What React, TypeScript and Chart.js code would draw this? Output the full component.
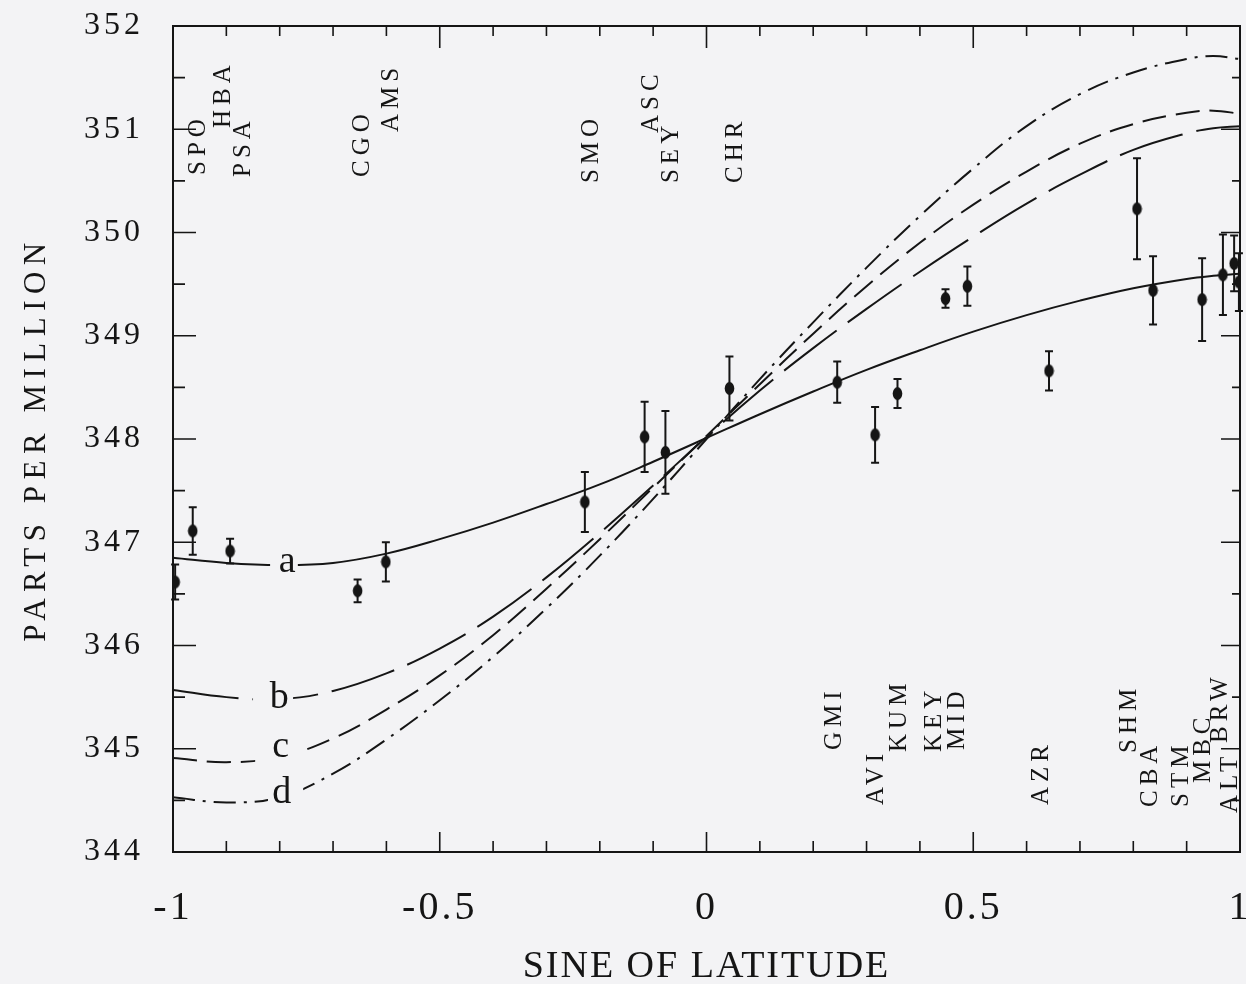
import React, { useEffect, useRef } from "react";
import { Chart, registerables } from "chart.js";

Chart.register(...registerables);

// ---------- data ----------
const curveX = [-1, -0.9, -0.8, -0.7, -0.6, -0.5, -0.4, -0.3, -0.2, -0.1, 0, 0.1, 0.2, 0.3, 0.4, 0.5, 0.6, 0.7, 0.8, 0.9, 0.95, 1];
const curveA = [346.85, 346.8, 346.78, 346.8, 346.89, 347.03, 347.19, 347.37, 347.56, 347.78, 348.01, 348.24, 348.46, 348.67, 348.86, 349.04, 349.2, 349.34, 349.46, 349.55, 349.58, 349.6];
const curveB = [345.57, 345.5, 345.48, 345.56, 345.73, 345.97, 346.28, 346.66, 347.09, 347.55, 348.02, 348.47, 348.88, 349.26, 349.62, 349.96, 350.28, 350.56, 350.8, 350.96, 351.01, 351.03];
const curveC = [344.91, 344.87, 344.92, 345.1, 345.38, 345.71, 346.1, 346.55, 347.03, 347.53, 348.03, 348.53, 349.02, 349.48, 349.9, 350.27, 350.59, 350.86, 351.05, 351.16, 351.18, 351.15];
const curveD = [344.53, 344.48, 344.53, 344.76, 345.09, 345.47, 345.89, 346.36, 346.87, 347.42, 348.0, 348.58, 349.13, 349.66, 350.16, 350.62, 351.03, 351.34, 351.55, 351.68, 351.71, 351.68];

const stationX = [-0.996, -0.963, -0.893, -0.654, -0.601, -0.228, -0.116, -0.077, 0.043, 0.245, 0.316, 0.358, 0.448, 0.489, 0.642, 0.807, 0.837, 0.929, 0.968, 0.989, 0.998];
const stationY = [346.615, 347.11, 346.915, 346.53, 346.81, 347.39, 348.02, 347.87, 348.49, 348.55, 348.04, 348.44, 349.36, 349.48, 348.66, 350.23, 349.44, 349.35, 349.59, 349.7, 349.52];
const stationErr = [0.17, 0.23, 0.12, 0.11, 0.19, 0.29, 0.34, 0.4, 0.31, 0.2, 0.27, 0.14, 0.09, 0.19, 0.19, 0.49, 0.33, 0.4, 0.39, 0.27, 0.28];

const stationCodes = ["SPO", "HBA", "PSA", "CGO", "AMS", "SMO", "ASC", "SEY", "CHR", "GMI", "AVI", "KUM", "KEY", "MID", "AZR", "SHM", "CBA", "STM", "MBC", "ALT", "BRW"];
const codeAnchorX = [-0.955, -0.908, -0.869, -0.646, -0.593, -0.218, -0.106, -0.068, 0.053, 0.237, 0.316, 0.359, 0.425, 0.468, 0.625, 0.79, 0.831, 0.888, 0.929, 0.981, 0.961];
const codeAnchorY = [350.557, 351.012, 350.538, 350.538, 350.973, 350.479, 350.964, 350.479, 350.479, 344.988, 344.455, 344.969, 344.969, 344.988, 344.455, 344.959, 344.436, 344.436, 344.668, 344.378, 345.056];

const curveNames = ["a", "b", "c", "d"];
const curveNameX = [-0.786, -0.801, -0.798, -0.796];
const curveNameY = [346.71, 345.395, 344.92, 344.47];
const curveGapFrom = [-0.818, -0.85, -0.846, -0.822];
const curveGapTo = [-0.766, -0.775, -0.762, -0.756];

const xTickValues = [-1, -0.5, 0, 0.5, 1];
const yTickValues = [344, 345, 346, 347, 348, 349, 350, 351, 352];

// ---------- styles ----------
const BG = "#f3f3f5";
const INK = "#151515";
const SERIF = '"Liberation Serif", "DejaVu Serif", serif';

function makeDot(): HTMLCanvasElement {
  const c = document.createElement("canvas");
  c.width = 11;
  c.height = 15;
  const g = c.getContext("2d")!;
  g.fillStyle = INK;
  g.beginPath();
  g.ellipse(5.5, 7.5, 4.8, 6.5, 0, 0, Math.PI * 2);
  g.fill();
  return c;
}

function patchSpacing(scale: any, labelSpacing: string | null, titleSpacing: string | null) {
  if (!scale || scale.__spaced) return;
  scale.__spaced = true;
  const dl = scale.drawLabels.bind(scale);
  scale.drawLabels = (area: any) => {
    const ctx = scale.ctx;
    ctx.save();
    if (labelSpacing) (ctx as any).letterSpacing = labelSpacing;
    dl(area);
    ctx.restore();
  };
  const dt = scale.drawTitle.bind(scale);
  scale.drawTitle = () => {
    const ctx = scale.ctx;
    ctx.save();
    if (titleSpacing) (ctx as any).letterSpacing = titleSpacing;
    dt();
    ctx.restore();
  };
}

const decor = {
  id: "decor",
  beforeDraw(chart: any) {
    const { ctx, width, height } = chart;
    ctx.save();
    ctx.fillStyle = BG;
    ctx.fillRect(0, 0, width, height);
    ctx.restore();
    patchSpacing(chart.scales.y, "4px", "6.5px");
    patchSpacing(chart.scales.x, "3px", "2px");
  },
  beforeDatasetsDraw(chart: any) {
    const { ctx } = chart;
    const xs = chart.scales.x;
    const ys = chart.scales.y;
    ctx.save();
    ctx.strokeStyle = INK;
    ctx.lineWidth = 2;
    for (let i = 0; i < stationX.length; i++) {
      const px = xs.getPixelForValue(stationX[i]);
      const y1 = ys.getPixelForValue(stationY[i] + stationErr[i]);
      const y2 = ys.getPixelForValue(stationY[i] - stationErr[i]);
      ctx.beginPath();
      ctx.moveTo(px, y1);
      ctx.lineTo(px, y2);
      ctx.moveTo(px - 4, y1);
      ctx.lineTo(px + 4, y1);
      ctx.moveTo(px - 4, y2);
      ctx.lineTo(px + 4, y2);
      ctx.stroke();
    }
    ctx.restore();
  },
  afterDatasetsDraw(chart: any) {
    const { ctx, chartArea } = chart;
    const { left, right, top, bottom } = chartArea;
    const xs = chart.scales.x;
    const ys = chart.scales.y;
    ctx.save();
    // curve labels with knock-out gaps
    ctx.font = `38px ${SERIF}`;
    ctx.textAlign = "center";
    ctx.textBaseline = "alphabetic";
    for (let i = 0; i < curveNames.length; i++) {
      const px = xs.getPixelForValue(curveNameX[i]);
      const py = ys.getPixelForValue(curveNameY[i]);
      const g1 = xs.getPixelForValue(curveGapFrom[i]);
      const g2 = xs.getPixelForValue(curveGapTo[i]);
      ctx.fillStyle = BG;
      ctx.fillRect(g1, py - 28, g2 - g1, 33);
      ctx.fillStyle = INK;
      ctx.fillText(curveNames[i], px, py);
    }
    // frame
    ctx.strokeStyle = INK;
    ctx.lineWidth = 2;
    ctx.strokeRect(left, top, right - left, bottom - top);
    // ticks (inward)
    ctx.lineWidth = 1.6;
    ctx.beginPath();
    for (let i = -10; i <= 10; i++) {
      const px = xs.getPixelForValue(i / 10);
      const major = i % 5 === 0;
      ctx.moveTo(px, bottom);
      ctx.lineTo(px, bottom - (major ? 20 : 11));
      ctx.moveTo(px, top);
      ctx.lineTo(px, top + (major ? 22 : 10));
    }
    for (let i = 0; i <= 16; i++) {
      const py = ys.getPixelForValue(344 + i * 0.5);
      const major = i % 2 === 0;
      ctx.moveTo(left, py);
      ctx.lineTo(left + (major ? 23 : 12), py);
      ctx.moveTo(right, py);
      ctx.lineTo(right - (major ? 19 : 8), py);
    }
    ctx.stroke();
    // station codes, rotated
    ctx.fillStyle = INK;
    ctx.font = `25px ${SERIF}`;
    (ctx as any).letterSpacing = "5px";
    ctx.textAlign = "left";
    ctx.textBaseline = "middle";
    for (let i = 0; i < stationCodes.length; i++) {
      const px = xs.getPixelForValue(codeAnchorX[i]);
      const py = ys.getPixelForValue(codeAnchorY[i]);
      ctx.save();
      ctx.translate(px, py);
      ctx.rotate(-Math.PI / 2);
      ctx.fillText(stationCodes[i], 0, 1);
      ctx.restore();
    }
    ctx.restore();
  },
};

export default function App() {
  const ref = useRef<HTMLCanvasElement | null>(null);
  useEffect(() => {
    document.body.style.margin = "0";
    const dot = makeDot();
    const line = (vals: number[], dash: number[]) => ({
      type: "line" as const,
      data: curveX.map((x, i) => ({ x, y: vals[i] })),
      borderColor: INK,
      borderWidth: 2,
      borderDash: dash,
      pointRadius: 0,
      fill: false,
      tension: 0.4,
    });
    const chart = new Chart(ref.current!, {
      type: "line",
      data: {
        datasets: [
          { label: "a", ...line(curveA, []) },
          { label: "b", ...line(curveB, [66, 14]) },
          { label: "c", ...line(curveC, [24, 10]) },
          { label: "d", ...line(curveD, [22, 8, 3, 8]) },
          {
            label: "stations",
            type: "line",
            data: stationX.map((x, i) => ({ x, y: stationY[i] })),
            showLine: false,
            pointStyle: dot as any,
            pointRadius: 6,
            borderWidth: 0,
            backgroundColor: INK,
            borderColor: INK,
          } as any,
        ],
      },
      options: {
        responsive: true,
        maintainAspectRatio: false,
        animation: false,
        events: [],
        layout: { padding: { top: 26, right: 6, left: 0, bottom: 0 } },
        plugins: { legend: { display: false }, tooltip: { enabled: false } },
        scales: {
          x: {
            type: "linear",
            min: -1,
            max: 1,
            afterFit: (s: any) => {
              s.height = 132;
              s.paddingLeft = 0;
              s.paddingRight = 0;
            },
            afterBuildTicks: (s: any) => {
              s.ticks = xTickValues.map((v) => ({ value: v }));
            },
            grid: { display: false, drawTicks: false },
            border: { display: false },
            ticks: {
              padding: 32,
              color: INK,
              maxRotation: 0,
              autoSkip: false,
              font: { family: SERIF, size: 40 },
              callback: (v: any) => String(v),
            },
            title: {
              display: true,
              text: "SINE OF LATITUDE",
              color: INK,
              font: { family: SERIF, size: 38, lineHeight: 1 },
              padding: { top: 0, bottom: -2 },
            },
          },
          y: {
            type: "linear",
            min: 344,
            max: 352,
            afterFit: (s: any) => {
              s.width = 173;
              s.paddingTop = 0;
              s.paddingBottom = 0;
            },
            afterBuildTicks: (s: any) => {
              s.ticks = yTickValues.map((v) => ({ value: v }));
            },
            grid: { display: false, drawTicks: false },
            border: { display: false },
            ticks: {
              padding: 29,
              color: INK,
              autoSkip: false,
              font: { family: SERIF, size: 32 },
              callback: (v: any) => String(v),
            },
            title: {
              display: true,
              text: "PARTS PER MILLION",
              color: INK,
              font: { family: SERIF, size: 31, lineHeight: 1 },
              padding: { top: 21, bottom: 0 },
            },
          },
        },
      } as any,
      plugins: [decor],
    });
    return () => chart.destroy();
  }, []);
  return (
    <div style={{ position: "relative", width: 1246, height: 984, background: BG }}>
      <canvas ref={ref} />
    </div>
  );
}
